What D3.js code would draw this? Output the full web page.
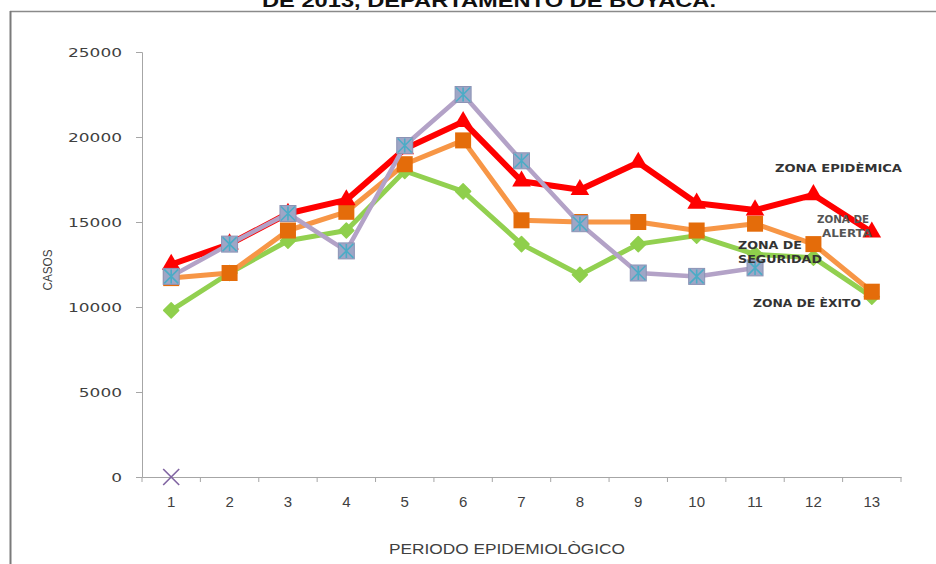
<!DOCTYPE html>
<html>
<head>
<meta charset="utf-8">
<script src="https://cdn.jsdelivr.net/npm/d3@7"></script>
<style>
  html, body { margin: 0; padding: 0; background: #fff; }
  svg { display: block; }
</style>
</head>
<body>
<svg id="chart" width="936" height="564"></svg>
<script>
// Periods of the epidemiological year
const periods = [1, 2, 3, 4, 5, 6, 7, 8, 9, 10, 11, 12, 13];
const yTicks = [0, 5000, 10000, 15000, 20000, 25000];

// Endemic channel zones (cases per period)
const zonaEpidemica = [12500, 13700, 15500, 16300, 19300, 20900, 17400, 16900, 18500, 16100, 15700, 16600, 14400];
const zonaAlerta    = [11700, 12000, 14500, 15600, 18400, 19800, 15100, 15000, 15000, 14500, 14900, 13700, 10900];
const zonaSeguridad = [9800, 12000, 13900, 14500, 18000, 16800, 13700, 11900, 13700, 14200, 13100, 12900, 10600];
// Observed cases 2013 (periods 12 and 13 not yet reported)
const casos2013     = [11800, 13700, 15500, 13300, 19500, 22500, 18600, 14900, 12000, 11800, 12300, null, null];
// Extra series with a single point at period 1
const serieCero     = [0];

const titleText = "DE 2013, DEPARTAMENTO DE BOYACÁ.";
const xTitle = "PERIODO EPIDEMIOLÒGICO";
const yTitle = "CASOS";

const svg = d3.select("#chart");

// Frame around the chart
svg.append("line").attr("x1", 10).attr("x2", 936).attr("y1", 11.5).attr("y2", 11.5)
  .attr("stroke", "#8a8a8a").attr("stroke-width", 1.5);
svg.append("line").attr("x1", 10.5).attr("x2", 10.5).attr("y1", 11).attr("y2", 564)
  .attr("stroke", "#7a7a7a").attr("stroke-width", 2);

// Title (only its lower part fits above the frame)
svg.append("text")
  .attr("x", 489).attr("y", 7)
  .attr("text-anchor", "middle")
  .attr("font-family", "'Liberation Sans', Arial, sans-serif")
  .attr("font-weight", "bold")
  .attr("font-size", 18)
  .attr("textLength", 454).attr("lengthAdjust", "spacingAndGlyphs")
  .attr("fill", "#111")
  .text(titleText);

const x = d3.scaleBand().domain(periods).range([142, 901]).paddingInner(0).paddingOuter(0);
const y = d3.scaleLinear().domain([0, 25000]).range([477, 52]);
const cx = p => x(p) + x.bandwidth() / 2;

// Y axis
const yAxis = svg.append("g")
  .attr("transform", "translate(142,0)")
  .call(d3.axisLeft(y).tickValues(yTicks).tickSize(6).tickPadding(14).tickFormat(d3.format("d")));
yAxis.select(".domain").attr("stroke", "#a6a6a6");
yAxis.selectAll(".tick line").attr("stroke", "#a6a6a6");
yAxis.selectAll(".tick text")
  .attr("font-family", "'DejaVu Sans', Verdana, sans-serif")
  .attr("font-size", 13)
  .attr("fill", "#404040")
  .each(function(d) {
    const n = String(d).length;
    d3.select(this).attr("textLength", n * 10.8).attr("lengthAdjust", "spacingAndGlyphs");
  });

// X axis: line, tick marks between categories, labels at centres
const xAxis = svg.append("g")
  .attr("transform", "translate(0,477)")
  .call(d3.axisBottom(x).tickSize(0).tickPadding(19));
xAxis.select(".domain").attr("stroke", "#a6a6a6");
xAxis.selectAll(".tick text")
  .attr("font-family", "'Liberation Sans Narrow', 'Liberation Sans', Arial, sans-serif")
  .attr("font-size", 15)
  .attr("fill", "#404040");
const bounds = periods.map(p => x(p)).concat([x(periods[periods.length - 1]) + x.bandwidth()]);
xAxis.selectAll("line.sep").data(bounds).join("line")
  .attr("class", "sep")
  .attr("x1", d => d).attr("x2", d => d)
  .attr("y1", 0).attr("y2", 5)
  .attr("stroke", "#a6a6a6");

// Axis titles
svg.append("text")
  .attr("x", 507).attr("y", 554)
  .attr("text-anchor", "middle")
  .attr("font-family", "'Liberation Sans Narrow', 'Liberation Sans', Arial, sans-serif")
  .attr("font-size", 14)
  .attr("textLength", 236).attr("lengthAdjust", "spacingAndGlyphs")
  .attr("fill", "#404040")
  .text(xTitle);
svg.append("text")
  .attr("transform", "translate(52,270) rotate(-90)")
  .attr("text-anchor", "middle")
  .attr("font-family", "'Liberation Sans Narrow', 'Liberation Sans', Arial, sans-serif")
  .attr("font-size", 13)
  .attr("textLength", 41).attr("lengthAdjust", "spacingAndGlyphs")
  .attr("fill", "#404040")
  .text(yTitle);

const line = d3.line()
  .defined(d => d.v !== null)
  .x(d => cx(d.p))
  .y(d => y(d.v));

const toPts = arr => arr.map((v, i) => ({ p: periods[i], v }));

function drawSeries(values, lineColor, width, markerFn) {
  const pts = toPts(values);
  const g = svg.append("g");
  g.append("path").datum(pts)
    .attr("d", line)
    .attr("fill", "none")
    .attr("stroke", lineColor)
    .attr("stroke-width", width)
    .attr("stroke-linejoin", "round");
  pts.filter(d => d.v !== null).forEach(d => markerFn(g, cx(d.p), y(d.v)));
}

// Green: diamonds
drawSeries(zonaSeguridad, "#92d050", 5, (g, px, py) => {
  const r = 7.5;
  g.append("path")
    .attr("d", `M${px},${py - r}L${px + r},${py}L${px},${py + r}L${px - r},${py}Z`)
    .attr("fill", "#8fcf4c").attr("stroke", "#8fcf4c").attr("stroke-width", 1.5)
    .attr("stroke-linejoin", "round");
});

// Orange: squares
drawSeries(zonaAlerta, "#f79646", 5, (g, px, py) => {
  g.append("rect").attr("x", px - 8).attr("y", py - 8).attr("width", 16).attr("height", 16)
    .attr("fill", "#e46c0a");
});

// Red: triangles
drawSeries(zonaEpidemica, "#ff0000", 6, (g, px, py) => {
  g.append("path").attr("d", d3.symbol(d3.symbolTriangle, 150)())
    .attr("transform", `translate(${px},${py})`)
    .attr("fill", "#ff0000");
});

// Lavender: squares with asterisk
drawSeries(casos2013, "#b3a2c7", 4.5, (g, px, py) => {
  g.append("rect").attr("x", px - 8).attr("y", py - 8).attr("width", 16).attr("height", 16)
    .attr("fill", "#9ea6c6").attr("stroke", "#8c93b5").attr("stroke-width", 1);
  const s = 7;
  g.append("path")
    .attr("d", `M${px - s},${py - s}L${px + s},${py + s}M${px - s},${py + s}L${px + s},${py - s}M${px},${py - s}L${px},${py + s}`)
    .attr("stroke", "#4bacc6").attr("stroke-width", 1.6);
});

// Single X marker at zero
serieCero.forEach((v, i) => {
  const px = cx(periods[i]), py = y(v), s = 8;
  svg.append("path")
    .attr("d", `M${px - s},${py - s}L${px + s},${py + s}M${px - s},${py + s}L${px + s},${py - s}`)
    .attr("stroke", "#8064a2").attr("stroke-width", 1.6);
});

// Zone annotations
const notes = [
  { t: "ZONA EPIDÈMICA", x: 775, y: 172, w: 127, c: "#333" },
  { t: "ZONA DE", x: 817, y: 223, w: 52, c: "#555" },
  { t: "ALERTA", x: 822, y: 237, w: 50, c: "#555" },
  { t: "ZONA DE", x: 738, y: 249, w: 64, c: "#333" },
  { t: "SEGURIDAD", x: 738, y: 263, w: 84, c: "#333" },
  { t: "ZONA DE ÈXITO", x: 753, y: 307, w: 108, c: "#333" }
];
svg.append("g").selectAll("text").data(notes).join("text")
  .attr("x", d => d.x).attr("y", d => d.y)
  .attr("font-family", "'DejaVu Sans', Verdana, sans-serif")
  .attr("font-weight", "bold")
  .attr("font-size", 11)
  .attr("textLength", d => d.w).attr("lengthAdjust", "spacingAndGlyphs")
  .attr("fill", d => d.c)
  .text(d => d.t);
</script>
</body>
</html>
